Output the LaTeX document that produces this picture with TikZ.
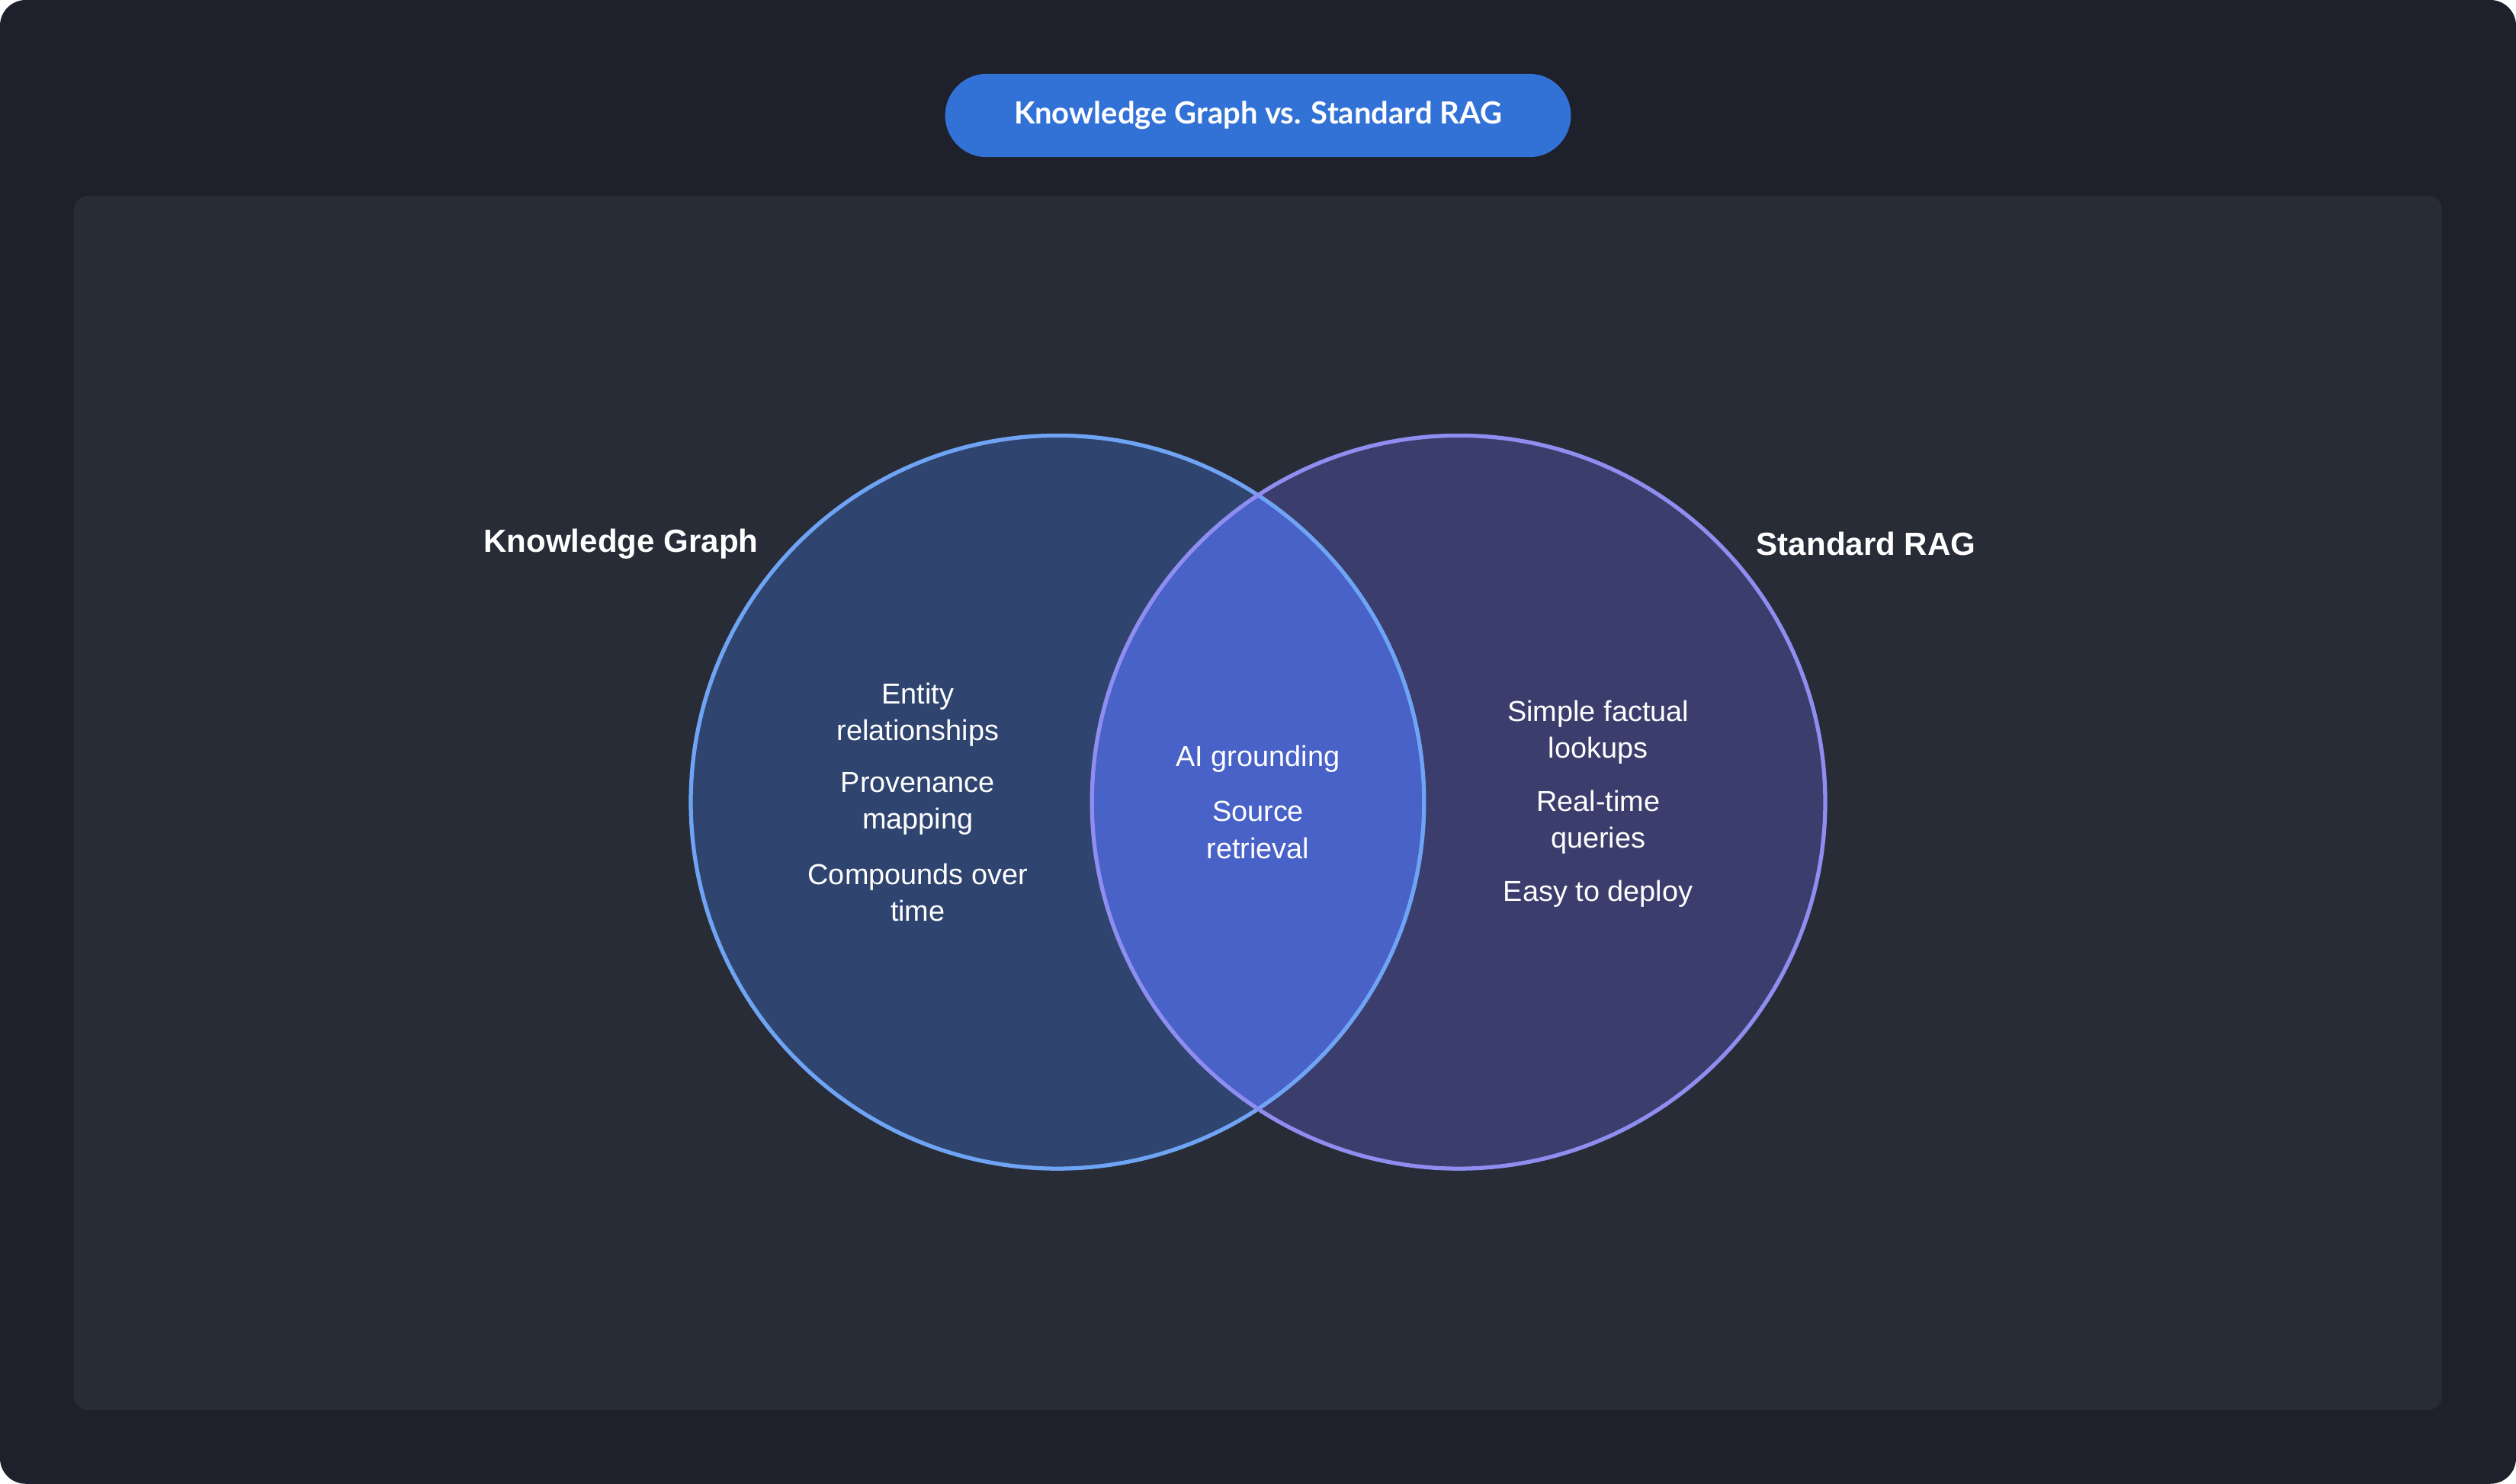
\documentclass[tikz,border=0pt]{standalone}
\usepackage{fontspec}
\setmainfont{Liberation Sans}
\newfontfamily\titlefont{Lato}
\definecolor{bgout}{HTML}{1E212B}
\definecolor{panel}{HTML}{282C37}
\definecolor{pill}{HTML}{3272D6}
\definecolor{kgfill}{HTML}{2F4570}
\definecolor{kgline}{HTML}{6FA4F5}
\definecolor{ragfill}{HTML}{3B3D6D}
\definecolor{ragline}{HTML}{8F8EF0}
\definecolor{lens}{HTML}{4862C8}
\begin{document}
\begin{tikzpicture}[x=1pt,y=-1pt,
  body/.style={text=white,font=\fontsize{18}{23}\selectfont,align=center},
  head/.style={text=white,font=\fontsize{20}{24}\selectfont\bfseries}]
\useasboundingbox (0,0) rectangle (1568,925);
\fill[bgout,rounded corners=16pt] (0,0) rectangle (1568,925);
\fill[panel,rounded corners=9pt] (46,122) rectangle (1522,879);
\node[fill=pill,rounded corners=26pt,minimum width=390pt,minimum height=52pt,text=white,font=\titlefont\fontsize{19}{22}\selectfont\bfseries] (title) at (784,72) {Knowledge Graph vs. Standard RAG};
\fill[kgfill] (659,500) circle (228.5);
\fill[ragfill] (909,500) circle (228.5);
\begin{scope}
\clip (659,500) circle (228.5);
\fill[lens] (909,500) circle (228.5);
\end{scope}
\draw[kgline,line width=2.5pt] (659,500) circle (228.5);
\draw[ragline,line width=2.5pt] (909,500) circle (228.5);
\node[head] (kg) at (387,339) {Knowledge Graph};
\node[head] (rag) at (1163,339) {Standard RAG};
\node[body] (e) at (572,445.5) {Entity\\relationships};
\node[body] (p) at (572,501) {Provenance\\mapping};
\node[body] (c) at (572,556.5) {Compounds over\\time};
\node[body] (ai) at (784,473) {AI grounding};
\node[body] (sr) at (784,517.5) {Source\\retrieval};
\node[body] (sf) at (996,456.5) {Simple factual\\lookups};
\node[body] (rt) at (996,512.5) {Real-time\\queries};
\node[body] (ed) at (996,557) {Easy to deploy};
\end{tikzpicture}
\end{document}
